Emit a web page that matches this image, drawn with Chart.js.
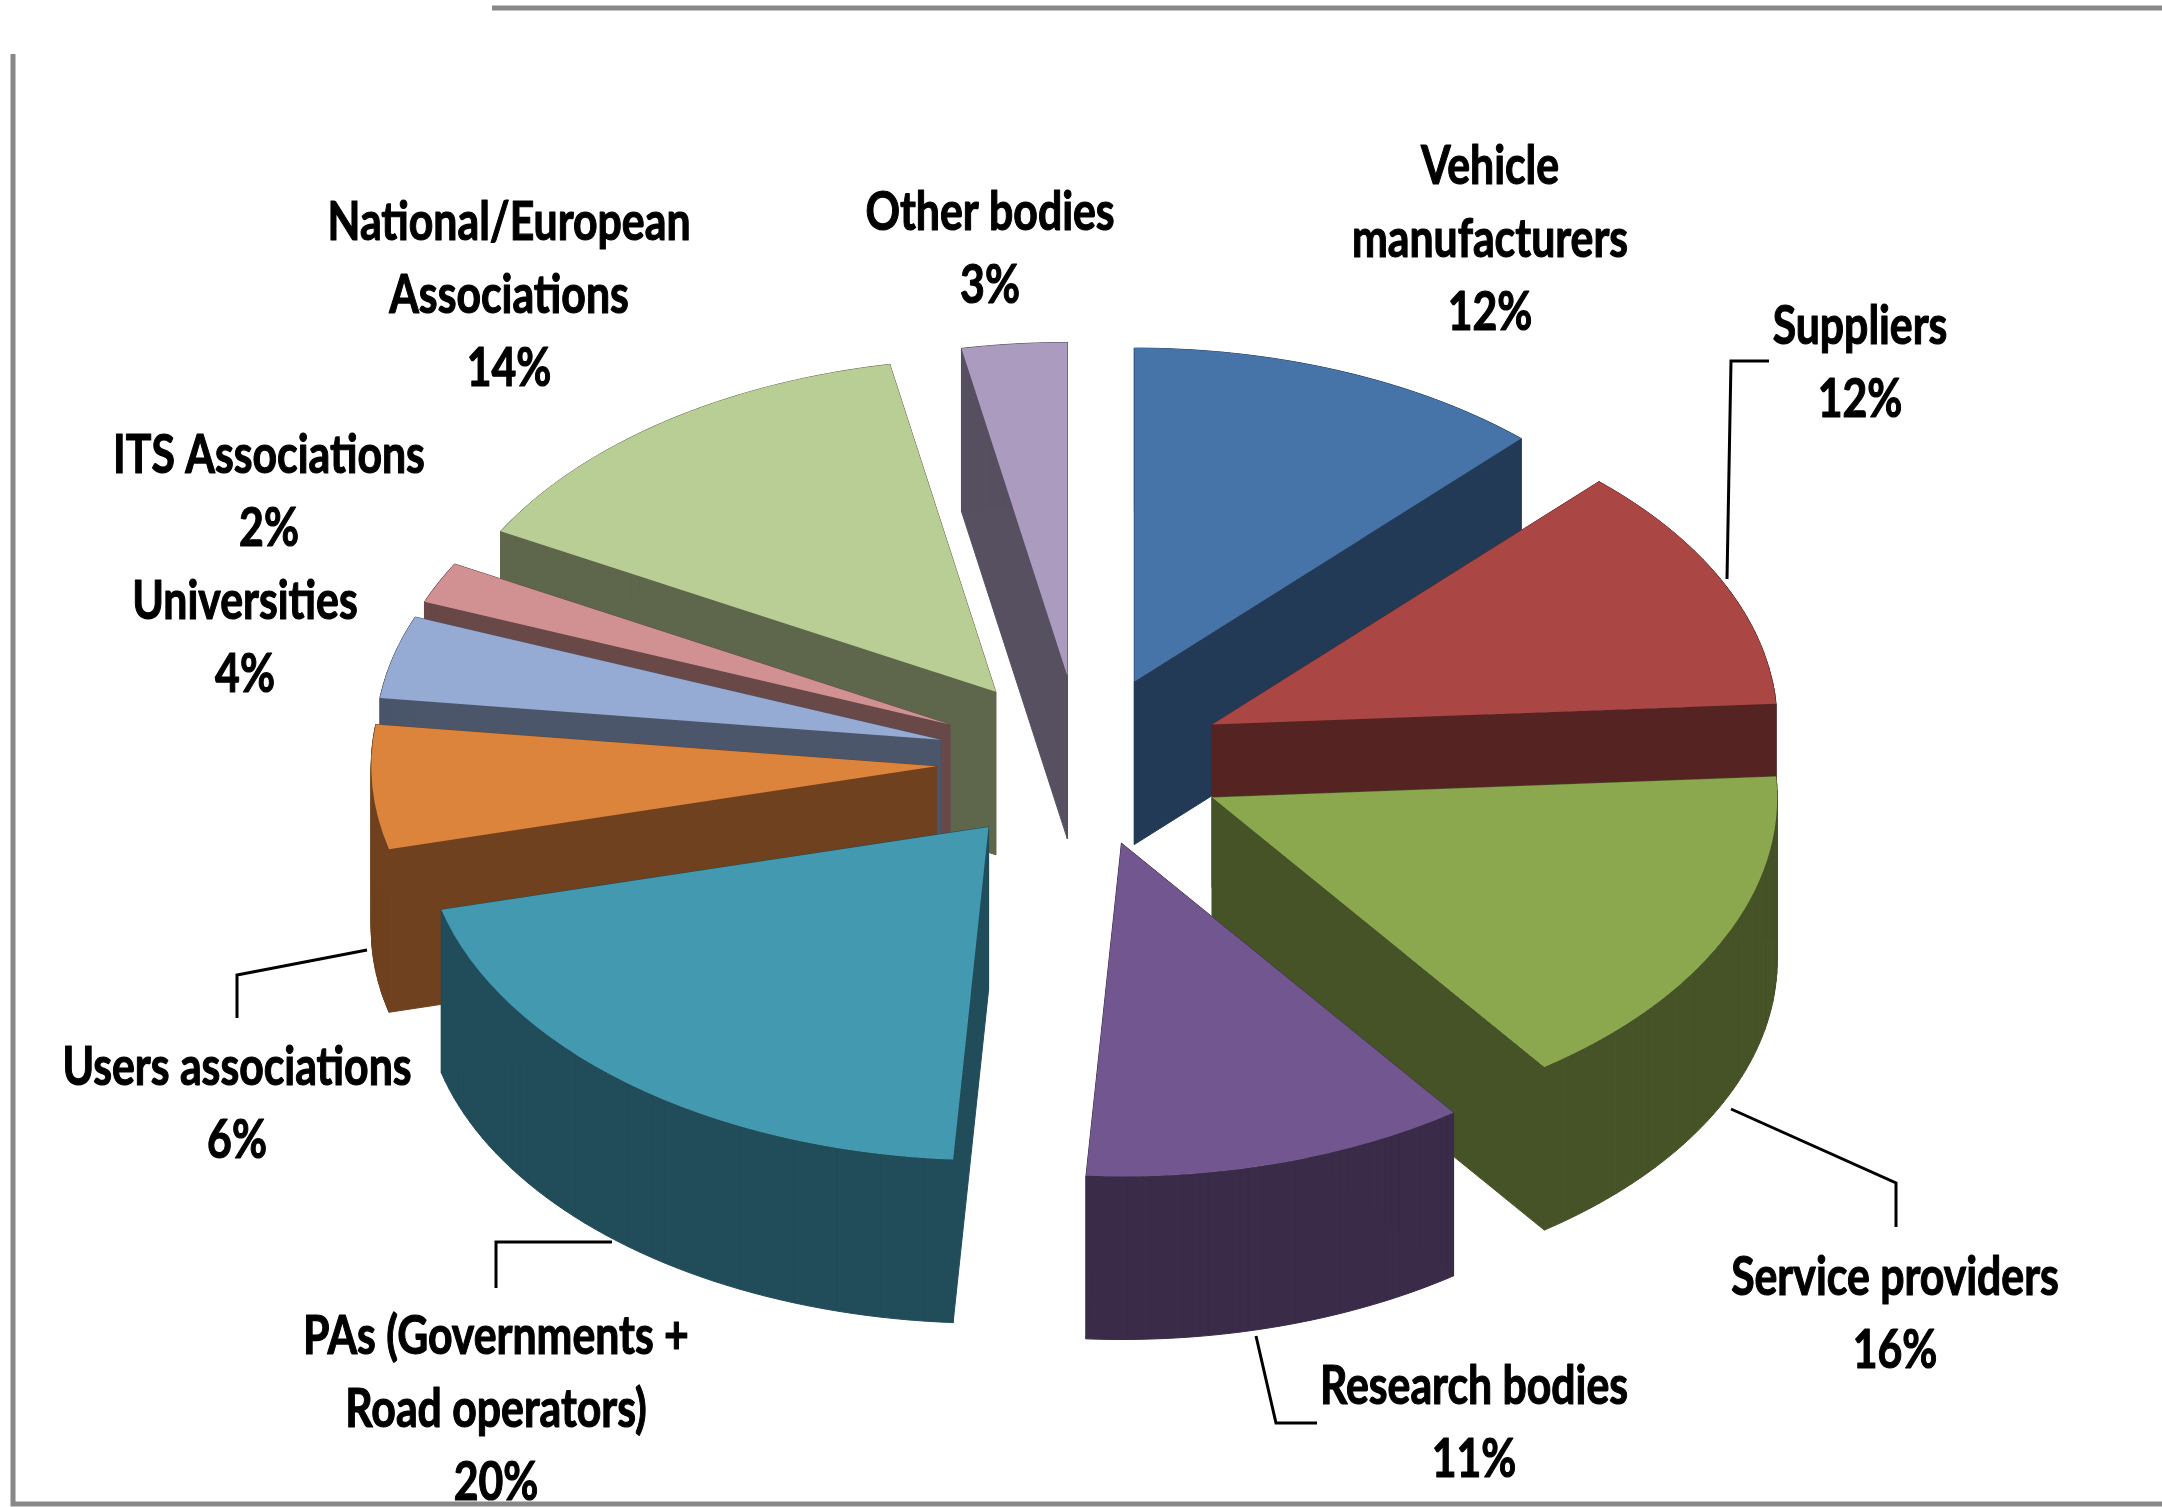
<!DOCTYPE html>
<html>
<head>
<meta charset="utf-8">
<style>
html,body{margin:0;padding:0;background:#fff;}
#wrap{width:2162px;height:1507px;position:relative;}
canvas{display:block;}
</style>
<script src="https://cdn.jsdelivr.net/npm/chart.js@4"></script>
</head>
<body>
<div id="wrap"><canvas id="c" width="2162" height="1507"></canvas></div>
<script>
const categories = ["Vehicle manufacturers","Suppliers","Service providers","Research bodies","PAs (Governments + Road operators)","Users associations","Universities","ITS Associations","National/European Associations","Other bodies"];
const shares = [12,12,16,11,20,6,4,2,14,3];
const topColors = ["#4674A8","#AA4644","#8BA84F","#725690","#4299B0","#DC843C","#95ABD4","#D19192","#B9CE95","#AA9BBF"];
const sideColors = ["#233A56","#552322","#465327","#3A2B49","#214C59","#6F411E","#4B566B","#694848","#5E674B","#565060"];
const labelLines = [["Vehicle","manufacturers"],["Suppliers"],["Service providers"],["Research bodies"],["PAs (Governments +","Road operators)"],["Users associations"],["Universities"],["ITS Associations"],["National/European","Associations"],["Other bodies"]];

const TILT = 0.59, DEPTH = 163, RADIUS = 565, EXPLODE = 145;
const labelAnchors = [[1490,167],[1860,327],[1895,1278],[1474,1387],[496,1337],[237,1068],[245,602],[269,456],[509,223],[990,213]];
const LINE_GAP = 73;
const leaders = [
  [[1727,579],[1731,361],[1769,361]],
  [[1731,1109],[1896,1183],[1896,1227]],
  [[1256,1336],[1276,1423],[1317,1423]],
  [[612,1242],[496,1242],[496,1288]],
  [[367,950],[237,975],[237,1018]]
];

const pie3d = {
  id:'pie3d',
  afterDatasetsUpdate(chart){
    // Move each slice out along its own middle angle, all by the same distance.
    for(const arc of chart.getDatasetMeta(0).data){
      const mid = (arc.startAngle+arc.endAngle)/2;
      arc.pivotX = arc.x; arc.pivotY = arc.y;
      arc.x += Math.cos(mid)*EXPLODE;
      arc.y += Math.sin(mid)*EXPLODE;
    }
  },
  beforeDatasetsDraw(chart){
    const ctx = chart.ctx, arcs = chart.getDatasetMeta(0).data;
    const pivotY = arcs[0].pivotY;
    const items = arcs.map((arc,i)=>{
      const ax = arc.x, ay = pivotY+(arc.y-pivotY)*TILT;
      const pts = [[ax,ay]];
      const n = 48;
      for(let s=0;s<=n;s++){
        const a = arc.startAngle+(arc.endAngle-arc.startAngle)*s/n;
        pts.push([ax+Math.cos(a)*arc.outerRadius, ay+Math.sin(a)*arc.outerRadius*TILT]);
      }
      return {i,ay,pts};
    }).sort((a,b)=>a.ay-b.ay);
    ctx.save();
    for(const it of items){
      ctx.fillStyle = sideColors[it.i];
      ctx.strokeStyle = sideColors[it.i];
      ctx.lineWidth = 1;
      const p = it.pts;
      for(let j=0;j<p.length;j++){
        const q = p[(j+1)%p.length];
        ctx.beginPath();
        ctx.moveTo(p[j][0],p[j][1]);
        ctx.lineTo(q[0],q[1]);
        ctx.lineTo(q[0],q[1]+DEPTH);
        ctx.lineTo(p[j][0],p[j][1]+DEPTH);
        ctx.closePath();
        ctx.fill();
        ctx.stroke();
      }
    }
    ctx.restore();
    ctx.save();
    ctx.translate(0,pivotY);
    ctx.scale(1,TILT);
    ctx.translate(0,-pivotY);
  },
  afterDatasetsDraw(chart){
    chart.ctx.restore();
  },
  afterDraw(chart){
    const ctx = chart.ctx;
    ctx.save();
    ctx.strokeStyle = '#888888'; ctx.lineWidth = 5;
    ctx.beginPath();
    ctx.moveTo(492,8); ctx.lineTo(2162,8);
    ctx.moveTo(13,54); ctx.lineTo(13,1504); ctx.lineTo(2162,1504);
    ctx.stroke();
    ctx.strokeStyle = '#000'; ctx.lineWidth = 3;
    for(const l of leaders){
      ctx.beginPath();
      l.forEach((p,i)=> i?ctx.lineTo(p[0],p[1]):ctx.moveTo(p[0],p[1]));
      ctx.stroke();
    }
    ctx.fillStyle = '#000';
    ctx.lineWidth = 1.2;
    ctx.lineJoin = 'round';
    ctx.font = 'bold 54px Lato,"Liberation Sans",sans-serif';
    ctx.textAlign = 'center'; ctx.textBaseline = 'middle';
    const squeeze = 363/ctx.measureText("National/European").width;
    categories.forEach((c,i)=>{
      const [x,y] = labelAnchors[i];
      const lines = labelLines[i].concat(shares[i]+'%');
      lines.forEach((t,j)=>{
        ctx.save();
        ctx.translate(x,y+j*LINE_GAP);
        ctx.scale(squeeze,1);
        ctx.strokeText(t,0,0);
        ctx.fillText(t,0,0);
        ctx.restore();
      });
    });
    ctx.restore();
  }
};
new Chart(document.getElementById('c'),{
  type:'pie',
  data:{labels:categories,datasets:[{data:shares,backgroundColor:topColors,borderWidth:0,clip:false}]},
  options:{
    responsive:false,animation:false,radius:RADIUS,
    layout:{padding:{top:15}},
    plugins:{legend:{display:false},tooltip:{enabled:false}}
  },
  plugins:[pie3d]
});
</script>
</body>
</html>
